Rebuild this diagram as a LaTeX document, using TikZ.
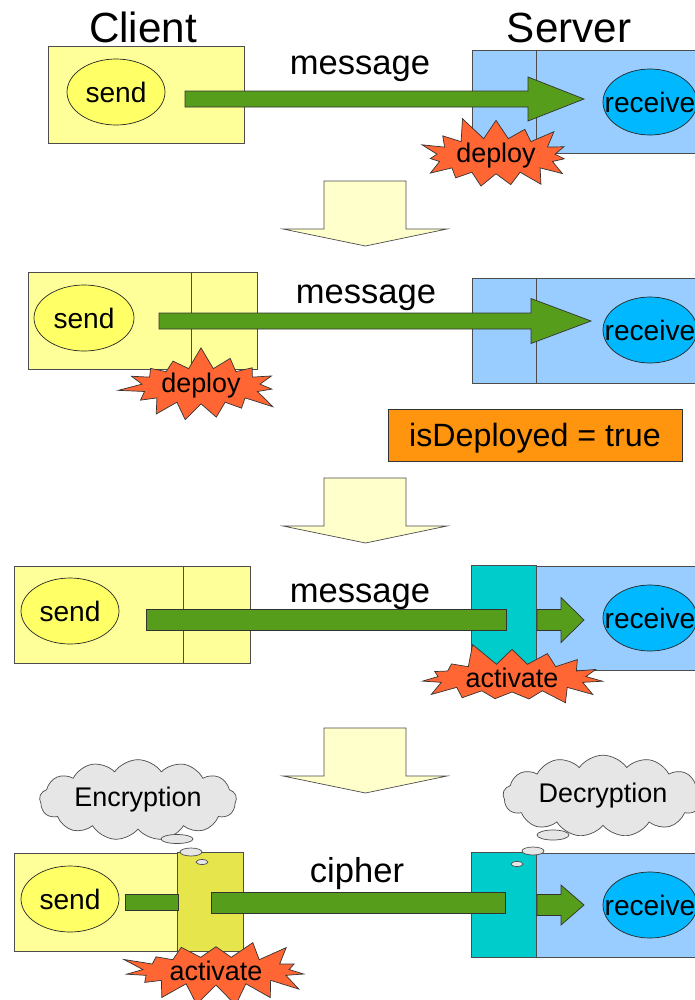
\documentclass[tikz,border=0pt]{standalone}
\usepackage{fontspec}
\setmainfont{Liberation Sans}
\usetikzlibrary{shapes.geometric,shapes.symbols,calc}

\definecolor{clientyellow}{HTML}{FFFF99}
\definecolor{sendyellow}{HTML}{FFFF66}
\definecolor{tieryellow}{HTML}{E6E64C}
\definecolor{serverblue}{HTML}{99CCFF}
\definecolor{recvblue}{HTML}{00B8FF}
\definecolor{tierteal}{HTML}{00CCCC}
\definecolor{msggreen}{HTML}{579D1C}
\definecolor{burstred}{HTML}{FF6633}
\definecolor{flagorange}{HTML}{FF950E}
\definecolor{steppale}{HTML}{FFFFCC}
\definecolor{thoughtgray}{HTML}{E6E6E6}

% one unit of the picture
\newlength\pxu
\setlength\pxu{0.03cm}

\tikzset{
  box/.style={draw=black!70, line width=0.6pt, inner sep=0pt},
  clientbox/.style={box, fill=clientyellow},
  serverbox/.style={box, fill=serverblue},
  optext/.style={font=\fontsize{24}{26}\selectfont},
  sendop/.style={ellipse, draw=black!85, line width=0.6pt, fill=sendyellow, inner sep=0pt,
    minimum width=98*\pxu, minimum height=66*\pxu, optext},
  recvop/.style={sendop, fill=recvblue, minimum width=94*\pxu,
    label={[optext]center:receive}},
  title/.style={font=\fontsize{36}{40}\selectfont},
  msg/.style={font=\fontsize{29.5}{32}\selectfont},
  flow/.style={draw=black!80, line width=0.6pt, fill=msggreen},
  stepfill/.style={draw=black!70, line width=0.6pt, fill=steppale},
  burst/.style={starburst, starburst points=15, starburst point height=0.72cm,
    draw=black!80, line width=0.6pt, fill=burstred, inner sep=0pt,
    font=\fontsize{23}{25}\selectfont},
  thought/.style={cloud, cloud puffs=13, cloud puff arc=110, aspect=3,
    draw=black!70, line width=0.6pt, fill=thoughtgray, inner sep=0pt,
    font=\fontsize{23}{25}\selectfont},
  bubble/.style={ellipse, draw=black!70, line width=0.6pt, fill=thoughtgray, inner sep=0pt},
  flag/.style={draw=black!80, line width=0.6pt, fill=flagorange, text depth=0pt,
    font=\fontsize{27.5}{30}\selectfont}
}

% green block arrow: tail, tip, half body, half head, head length
\newcommand\blockarrow[5]{%
  \draw[flow] ($(#1)+(0,-#3)$) -- ($(#2)+(-#5,-#3)$) -- ($(#2)+(-#5,-#4)$) -- (#2)
    -- ($(#2)+(-#5,#4)$) -- ($(#2)+(-#5,#3)$) -- ($(#1)+(0,#3)$) -- cycle;}

% pale arrow between the steps
\newcommand\stepdown[1]{%
  \draw[stepfill] (324,#1) -- (406,#1) -- (406,#1+48) -- (447,#1+48)
    -- (365.5,#1+65) -- (283,#1+48) -- (324,#1+48) -- cycle;}

\begin{document}
\begin{tikzpicture}[x=0.03cm, y=-0.03cm]
\useasboundingbox (0,0) rectangle (695,1000);
\clip (0,0) rectangle (695,1000);

\node[title, anchor=base] (client) at (143,42) {Client};
\node[title, anchor=base] (server) at (569,42) {Server};

% step 1
\node[clientbox, minimum width=196*\pxu, minimum height=97*\pxu] (c1) at (146,94.5) {};
\node[serverbox, minimum width=248*\pxu, minimum height=103*\pxu] (s1) at (596,101.5) {};
\draw[box] ([xshift=65*\pxu]s1.north west) -- ([xshift=65*\pxu]s1.south west);
\node[sendop] (snd1) at (116,92) {send};
\node[recvop] (rcv1) at (650,102) {};
\node[msg, anchor=base] (msg1) at (360,74) {message};
\coordinate (m1a) at (185,99);
\coordinate (m1b) at (584,99);
\blockarrow{m1a}{m1b}{8}{22}{56}
\node[burst, minimum width=5.0cm, minimum height=1.95cm, random starburst=11] (dep1) at (496,156) {deploy};

\stepdown{181}

% step 2
\node[clientbox, minimum width=229*\pxu, minimum height=97*\pxu] (c2) at (142.5,320.5) {};
\draw[box] ([xshift=164*\pxu]c2.north west) -- ([xshift=164*\pxu]c2.south west);
\node[serverbox, minimum width=248*\pxu, minimum height=105*\pxu] (s2) at (596,330.5) {};
\draw[box] ([xshift=65*\pxu]s2.north west) -- ([xshift=65*\pxu]s2.south west);
\node[sendop, minimum width=100*\pxu] (snd2) at (84,318) {send};
\node[recvop] (rcv2) at (650,330) {};
\node[msg, anchor=base] (msg2) at (366,303) {message};
\coordinate (m2a) at (159,321);
\coordinate (m2b) at (591,321);
\blockarrow{m2a}{m2b}{8}{22.5}{60}
\node[burst, minimum width=5.0cm, minimum height=1.95cm, random starburst=27] (dep2) at (201,386) {deploy};
\node[flag, minimum width=294*\pxu, minimum height=52*\pxu] (deployed) at (535,435) {isDeployed = true};

\stepdown{478}

% step 3
\node[clientbox, minimum width=236*\pxu, minimum height=97*\pxu] (c3) at (132,614.5) {};
\draw[box] ([xshift=170*\pxu]c3.north west) -- ([xshift=170*\pxu]c3.south west);
\node[serverbox, minimum width=248*\pxu, minimum height=104*\pxu] (s3) at (596,618) {};
\draw[box, fill=tierteal] (s3.north west) rectangle ([xshift=65*\pxu]s3.south west);
\node[sendop] (snd3) at (70,611) {send};
\node[recvop] (rcv3) at (650,618) {};
\node[msg, anchor=base] (msg3) at (360,602) {message};
\coordinate (m3a) at (146,620);
\coordinate (m3b) at (506,620);
\draw[flow] ($(m3a)+(0,-10.5)$) rectangle ($(m3b)+(0,10.5)$);
\coordinate (r3a) at (537,620);
\coordinate (r3b) at (584,620);
\blockarrow{r3a}{r3b}{10.5}{22.5}{23}
\node[burst, minimum width=5.9cm, minimum height=1.95cm, random starburst=5] (act3) at (512,678) {activate};

\stepdown{728}

% step 4
\node[thought, minimum width=5.91cm, minimum height=1.85cm] (enc) at (138,800) {Encryption};
\node[thought, minimum width=6cm, minimum height=1.8cm] (dec) at (603,796) {Decryption};
\node[clientbox, minimum width=229*\pxu, minimum height=98*\pxu] (c4) at (128.5,902) {};
\draw[box, fill=tieryellow] ([xshift=164*\pxu]c4.north west) rectangle (c4.south east);
\node[serverbox, minimum width=248*\pxu, minimum height=104*\pxu] (s4) at (596,905) {};
\draw[box, fill=tierteal] (s4.north west) rectangle ([xshift=65*\pxu]s4.south west);
\node[bubble, minimum width=32*\pxu, minimum height=9*\pxu] (eb1) at (177,839) {};
\node[bubble, minimum width=22*\pxu, minimum height=8*\pxu] (eb2) at (191,852) {};
\node[bubble, minimum width=12*\pxu, minimum height=5*\pxu] (eb3) at (202,862) {};
\node[bubble, minimum width=32*\pxu, minimum height=10*\pxu] (db1) at (553,835) {};
\node[bubble, minimum width=22*\pxu, minimum height=8*\pxu] (db2) at (533,851) {};
\node[bubble, minimum width=12*\pxu, minimum height=5*\pxu] (db3) at (517,864) {};
\node[sendop] (snd4) at (70,899) {send};
\node[recvop] (rcv4) at (650,905) {};
\node[msg, anchor=base] (ciph) at (357,882) {cipher};
\coordinate (k4a) at (125,902);
\coordinate (k4b) at (178,902);
\draw[flow] ($(k4a)+(0,-8)$) rectangle ($(k4b)+(0,8)$);
\coordinate (m4a) at (211,902.5);
\coordinate (m4b) at (505,902.5);
\draw[flow] ($(m4a)+(0,-10.5)$) rectangle ($(m4b)+(0,10.5)$);
\coordinate (r4a) at (537,905);
\coordinate (r4b) at (584,905);
\blockarrow{r4a}{r4b}{10.5}{20}{23}
\node[burst, minimum width=5.85cm, minimum height=1.9cm, random starburst=42] (act4) at (216,971) {activate};
\end{tikzpicture}
\end{document}
